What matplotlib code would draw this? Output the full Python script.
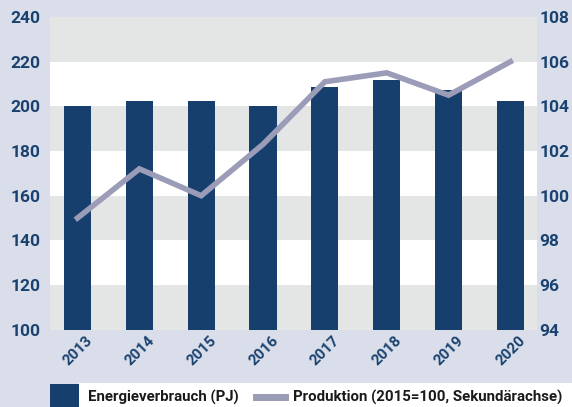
import numpy as np
import matplotlib.pyplot as plt
import matplotlib.transforms as mtransforms
from matplotlib.patches import Rectangle
from matplotlib.lines import Line2D

# data
years = ['2013', '2014', '2015', '2016', '2017', '2018', '2019', '2020']
energie = [200.2, 202.2, 202.2, 200.2, 208.6, 211.7, 207.1, 202.2]
produktion = [99.0, 101.2, 100.0, 102.3, 105.1, 105.5, 104.5, 106.0]
left_ticks = [100, 120, 140, 160, 180, 200, 220, 240]
right_ticks = [94, 96, 98, 100, 102, 104, 106, 108]

bg = '#dadeea'
band = '#e4e6e6'
bar_col = '#173f6e'
line_col = '#9a9cb8'
txt_col = '#1a4270'
font = 'Roboto'

W, H = 572, 407
fig = plt.figure(figsize=(W / 100, H / 100), dpi=100, facecolor=bg)
ax = fig.add_axes([50 / W, (H - 329.7) / H, 487 / W, 312.7 / H])
ax.set_facecolor('white')

x = np.arange(len(years))
for lo in (100, 140, 180, 220):
    ax.axhspan(lo, lo + 20, color=band, lw=0, zorder=0)
ax.bar(x, energie, width=0.44, color=bar_col, zorder=2)
ax.set_ylim(100, 240)
ax.set_xlim(-0.445, 7.43)
ax.set_yticks(left_ticks)
ax.set_xticks(x)
ax.set_xticklabels(years, rotation=45, ha='right', va='top', rotation_mode='anchor')

ax2 = ax.twinx()
ax2.plot(x, produktion, color=line_col, lw=4, solid_joinstyle='miter', zorder=3)
ax2.set_ylim(94, 108)
ax2.set_yticks(right_ticks)

for a in (ax, ax2):
    for s in a.spines.values():
        s.set_visible(False)
    a.tick_params(length=0, colors=txt_col)
    for lab in a.get_yticklabels():
        lab.set_fontfamily(font)
        lab.set_fontweight('bold')
        lab.set_fontsize(12.5)
ax.tick_params(axis='y', pad=7)
ax2.tick_params(axis='y', pad=1.5)
ax.tick_params(axis='x', pad=3)
shift = mtransforms.ScaledTranslation(8 / 100, 0, fig.dpi_scale_trans)
for lab in ax.get_xticklabels():
    lab.set_fontfamily(font)
    lab.set_fontweight('bold')
    lab.set_fontsize(11)
    lab.set_transform(lab.get_transform() + shift)

# legend strip at the bottom
fig.patches.append(Rectangle((79 / W, 0), (W - 79) / W, 24 / H, transform=fig.transFigure,
                             facecolor='white', edgecolor='none'))
fig.patches.append(Rectangle((50 / W, 0), 29 / W, 23 / H, transform=fig.transFigure,
                             facecolor=bar_col, edgecolor='none'))
fig.lines.append(Line2D([256 / W, 285 / W], [10 / H, 10 / H], transform=fig.transFigure,
                        color=line_col, lw=5))
fig.text(88 / W, 10 / H, 'Energieverbrauch (PJ)', fontfamily=font, fontweight='bold',
         fontsize=10.8, color='#1a1a1a', va='center')
fig.text(293 / W, 10 / H, 'Produktion (2015=100, Sekundärachse)', fontfamily=font,
         fontweight='bold', fontsize=10.8, color='#1a1a1a', va='center')

fig.savefig('out.png', dpi=100, facecolor=bg)
